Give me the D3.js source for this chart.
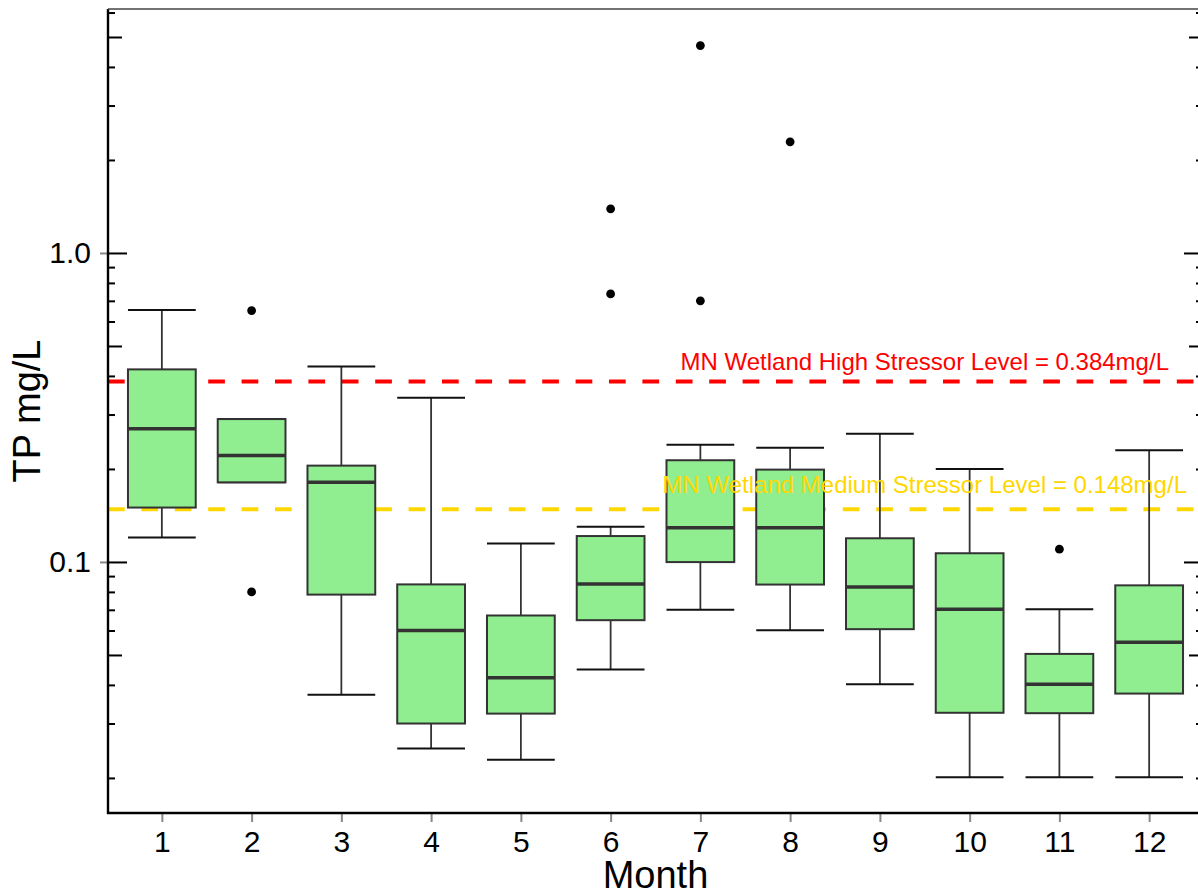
<!DOCTYPE html>
<html>
<head>
<meta charset="utf-8">
<script src="https://cdnjs.cloudflare.com/ajax/libs/d3/7.8.5/d3.min.js"></script>
<style>
  body { margin: 0; background: #fff; }
  svg { display: block; font-family: "Liberation Sans", Arial, sans-serif; }
</style>
</head>
<body>
<svg width="1198" height="892"></svg>
<script>
// Boxplot stats per month (TP mg/L)
var months    = [1, 2, 3, 4, 5, 6, 7, 8, 9, 10, 11, 12];
var whiskLow  = [0.120, 0.181, 0.0372, 0.0249, 0.0229, 0.0449, 0.070, 0.0601, 0.0402, 0.0201, 0.0201, 0.0201];
var q1        = [0.150, 0.181, 0.0784, 0.0300, 0.0323, 0.0648, 0.0999, 0.0845, 0.0606, 0.0325, 0.0324, 0.0375];
var medians   = [0.270, 0.221, 0.181, 0.060, 0.0422, 0.0848, 0.129, 0.129, 0.083, 0.0703, 0.0402, 0.055];
var q3        = [0.420, 0.290, 0.205, 0.0846, 0.0671, 0.1213, 0.2134, 0.199, 0.1193, 0.1067, 0.0504, 0.084];
var whiskHigh = [0.654, 0.290, 0.429, 0.340, 0.1148, 0.130, 0.2394, 0.234, 0.260, 0.200, 0.0703, 0.2298];
var outliers  = [[], [0.651, 0.080], [], [], [], [1.39, 0.737], [4.69, 0.700], [2.29], [], [], [0.110], []];

// Stressor reference lines
var refValues = [0.384, 0.148];
var refLabels = ["MN Wetland High Stressor Level = 0.384mg/L", "MN Wetland Medium Stressor Level = 0.148mg/L"];
var refColors = ["#ff0000", "#ffd700"];
var refOffset = [11, 16];

var majorTicks  = [0.1, 1];
var mediumTicks = [0.05, 0.5, 5];
var minorTicks  = [0.02, 0.03, 0.04, 0.06, 0.07, 0.08, 0.09,
                   0.2, 0.3, 0.4, 0.6, 0.7, 0.8, 0.9,
                   2, 3, 4, 6];

var svg = d3.select("svg"),
    plotLeft = 108, plotRight = 1203, plotTop = 9, plotBottom = 813;

var x = d3.scaleLinear().domain([0.4, 12.6]).range([plotLeft, plotRight]);
var y = d3.scaleLog().domain([0.0154, 6.16]).range([plotBottom, plotTop]);

var boxW = 0.755 * (x(2) - x(1));

var data = months.map(function(m, i) {
  return {month: m, lo: whiskLow[i], q1: q1[i], med: medians[i], q3: q3[i], hi: whiskHigh[i], out: outliers[i]};
});

// reference lines first so boxes sit on top
var refs = svg.append("g");
refValues.forEach(function(v, i) {
  refs.append("line")
    .attr("x1", plotLeft).attr("x2", plotRight)
    .attr("y1", y(v)).attr("y2", y(v))
    .attr("stroke", refColors[i])
    .attr("stroke-width", 4)
    .attr("stroke-dasharray", "16.7,16.7");
});

var g = svg.append("g");
var box = g.selectAll(".box").data(data).enter().append("g").attr("class", "box");

box.append("line")
  .attr("x1", function(d) { return x(d.month); })
  .attr("x2", function(d) { return x(d.month); })
  .attr("y1", function(d) { return y(d.lo); })
  .attr("y2", function(d) { return y(d.hi); })
  .attr("stroke", "#333").attr("stroke-width", 1.8);

box.selectAll(".cap")
  .data(function(d) { return [d.lo, d.hi].map(function(v) { return {month: d.month, v: v}; }); })
  .enter().append("line")
  .attr("x1", function(d) { return x(d.month) - boxW / 2; })
  .attr("x2", function(d) { return x(d.month) + boxW / 2; })
  .attr("y1", function(d) { return y(d.v); })
  .attr("y2", function(d) { return y(d.v); })
  .attr("stroke", "#111").attr("stroke-width", 2);

box.append("rect")
  .attr("x", function(d) { return x(d.month) - boxW / 2; })
  .attr("width", boxW)
  .attr("y", function(d) { return y(d.q3); })
  .attr("height", function(d) { return y(d.q1) - y(d.q3); })
  .attr("fill", "#90ee90")
  .attr("stroke", "#333").attr("stroke-width", 2);

box.append("line")
  .attr("x1", function(d) { return x(d.month) - boxW / 2; })
  .attr("x2", function(d) { return x(d.month) + boxW / 2; })
  .attr("y1", function(d) { return y(d.med); })
  .attr("y2", function(d) { return y(d.med); })
  .attr("stroke", "#333").attr("stroke-width", 3.5);

box.selectAll(".out")
  .data(function(d) { return d.out.map(function(v) { return {month: d.month, v: v}; }); })
  .enter().append("circle")
  .attr("cx", function(d) { return x(d.month); })
  .attr("cy", function(d) { return y(d.v); })
  .attr("r", 4.4)
  .attr("fill", "#000");

// labels for reference lines
refValues.forEach(function(v, i) {
  svg.append("text")
    .attr("x", x(9.5))
    .attr("y", y(v) - refOffset[i])
    .attr("text-anchor", "middle")
    .attr("font-size", 24)
    .attr("fill", refColors[i])
    .text(refLabels[i]);
});

// ---- axes ----
function inward(axisFn, xpos, vals, len) {
  var a = svg.append("g")
    .attr("transform", "translate(" + xpos + ",0)")
    .call(axisFn(y).tickValues(vals).tickSize(-len).tickFormat(""));
  a.select(".domain").remove();
  a.selectAll(".tick line").attr("stroke", "#000").attr("stroke-width", 2);
}
inward(d3.axisLeft, plotLeft, majorTicks, 19);
inward(d3.axisLeft, plotLeft, mediumTicks, 14);
inward(d3.axisLeft, plotLeft, minorTicks, 7);
inward(d3.axisRight, plotRight, majorTicks, 19);
inward(d3.axisRight, plotRight, mediumTicks, 14);
inward(d3.axisRight, plotRight, minorTicks, 7);

var yAxis = svg.append("g")
  .attr("transform", "translate(" + plotLeft + ",0)")
  .call(d3.axisLeft(y).tickValues(majorTicks).tickSize(8).tickPadding(9).tickFormat(d3.format(".1f")));
yAxis.select(".domain").remove();
yAxis.selectAll(".tick line").attr("stroke", "#888").attr("stroke-width", 2);
yAxis.selectAll("text").attr("font-size", 30).attr("fill", "#000").attr("font-family", null);

var xAxis = svg.append("g")
  .attr("transform", "translate(0," + plotBottom + ")")
  .call(d3.axisBottom(x).tickValues(months).tickSize(9).tickPadding(9).tickFormat(d3.format("d")));
xAxis.select(".domain").remove();
xAxis.selectAll(".tick line").attr("stroke", "#888").attr("stroke-width", 2);
xAxis.selectAll("text").attr("font-size", 30).attr("fill", "#000").attr("font-family", null);

// frame: left and bottom black, top thin
svg.append("line").attr("x1", plotLeft).attr("x2", plotLeft).attr("y1", plotTop).attr("y2", plotBottom + 1)
  .attr("stroke", "#000").attr("stroke-width", 2.4);
svg.append("line").attr("x1", plotLeft - 1).attr("x2", plotRight).attr("y1", plotBottom).attr("y2", plotBottom)
  .attr("stroke", "#000").attr("stroke-width", 2.4);
svg.append("line").attr("x1", plotLeft).attr("x2", plotRight).attr("y1", plotTop).attr("y2", plotTop)
  .attr("stroke", "#444").attr("stroke-width", 1.6);
svg.append("line").attr("x1", plotRight).attr("x2", plotRight).attr("y1", plotTop).attr("y2", plotBottom)
  .attr("stroke", "#444").attr("stroke-width", 1.6);

// axis titles
svg.append("text")
  .attr("transform", "translate(40," + ((plotTop + plotBottom) / 2) + ") rotate(-90)")
  .attr("text-anchor", "middle")
  .attr("font-size", 38)
  .text("TP mg/L");

svg.append("text")
  .attr("x", (plotLeft + plotRight) / 2)
  .attr("y", 888)
  .attr("text-anchor", "middle")
  .attr("font-size", 38)
  .text("Month");
</script>
</body>
</html>
